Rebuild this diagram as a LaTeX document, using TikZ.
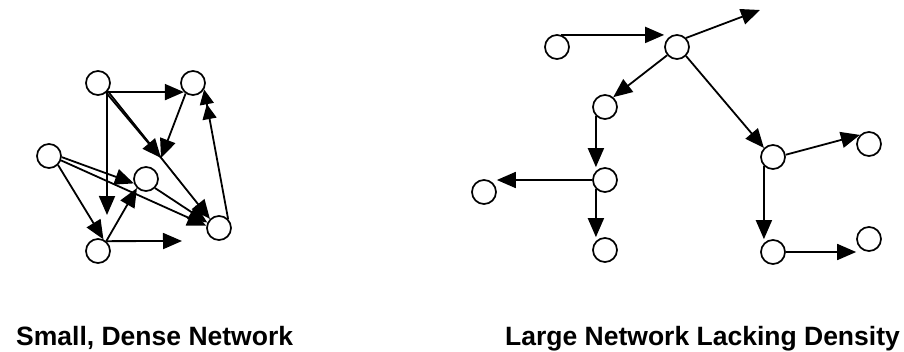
\documentclass[tikz,border=0pt]{standalone}
\usepackage{fontspec}
\setmainfont{Liberation Sans}
\usetikzlibrary{arrows.meta}

\begin{document}
\begin{tikzpicture}[x=1pt, y=-1pt,
		vertex/.style={draw, circle, line width=1.7pt, minimum size=24pt, inner sep=0pt},
		link/.style={line width=1.8pt, -{Triangle[length=19pt 0, width=16pt 0]}},
		caption/.style={font=\fontsize{26.5}{30}\selectfont\bfseries, anchor=base west, inner sep=0pt}]
	\useasboundingbox (0,0) rectangle (904,351);

	% small, dense network
	\node (s1) [vertex] at (98,83) {};
	\node (s2) [vertex] at (193,83) {};
	\node (s3) [vertex] at (49,156) {};
	\node (s4) [vertex] at (146,179) {};
	\node (s5) [vertex] at (98,251) {};
	\node (s6) [vertex] at (219,228) {};
	\coordinate (s1-end) at (107,215);
	\coordinate (jam) at (161,158);
	\coordinate (s5-end) at (182,241);

	% Arrows
	\draw[link] (s1.-45) -- (s2.-135);
	\draw[link] (s1.-45) -- (s1-end);
	\draw[link] (s1.-50) -- (jam);
	\draw[link] (s1.-40) -- (s6.135);
	\draw[link] (s2.-125) -- (jam);
	\draw[line width=1.8pt, -{Triangle[length=15pt 0, width=14pt 0] Triangle[length=15pt 0, width=14pt 0]}] (s6.45) -- (s2.-30);
	\draw[link] (s3.-5) -- (s4.200);
	\draw[link] (s3.-20) -- (s6.170);
	\draw[link] (s4.-45) -- (s6.155);
	\draw[link] (s3.-45) -- (s5.65);
	\draw[link] (s5.50) -- (s4.-135);
	\draw[link] (s5.50) -- (s5-end);

	% large network lacking density
	\node (l1) [vertex] at (557,47) {};
	\node (l2) [vertex] at (677,47) {};
	\node (l3) [vertex] at (605,107) {};
	\node (l4) [vertex] at (605,180) {};
	\node (l5) [vertex] at (484,192) {};
	\node (l6) [vertex] at (605,250) {};
	\node (l7) [vertex] at (773,157) {};
	\node (l8) [vertex] at (869,144) {};
	\node (l9) [vertex] at (773,252) {};
	\node (l10) [vertex] at (869,239) {};
	\coordinate (l2-end) at (760,10);

	% Arrows
	\draw[link] (l1.70) -- (l1.70 -| l2.west);
	\draw[link] (l2.45) -- (l2-end);
	\draw[link] (l2.-140) -- (l3.50);
	\draw[link] (l2.-45) -- (l7.135);
	\draw[link] (l3.-135) -- (l3.-135 |- l4.north);
	\draw[link] (l4.west) -- (l4.west -| l5.east);
	\draw[link] (l4.-135) -- (l4.-135 |- l6.north);
	\draw[link] (l7.10) -- (l8.135);
	\draw[link] (l7.-135) -- (l7.-135 |- l9.north);
	\draw[link] (l9.east) -- (l9.east -| l10.west);

	% captions
	\node (small) [caption] at (16,345) {Small, Dense Network};
	\node (large) [caption] at (505,345) {Large Network Lacking Density};
\end{tikzpicture}
\end{document}
